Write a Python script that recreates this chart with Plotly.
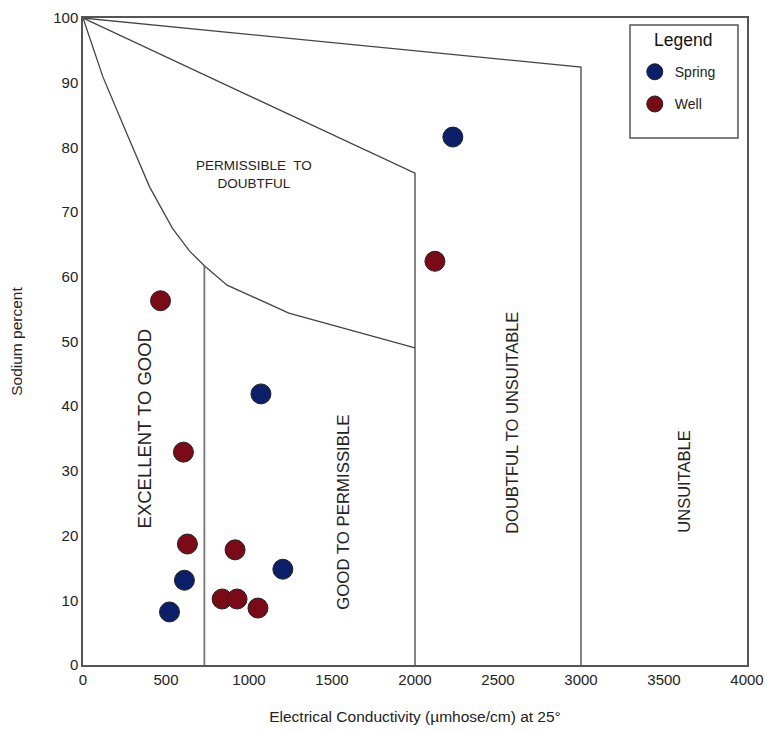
import plotly.graph_objects as go

# ---- data ----
spring_ec = [2228, 1072, 611, 521, 1204]
spring_na = [81.6, 41.9, 13.1, 8.2, 14.8]

well_ec = [467, 2120, 605, 629, 916, 838, 928, 1054]
well_na = [56.3, 62.4, 32.9, 18.7, 17.8, 10.2, 10.2, 8.8]

# class boundary lines of the Wilcox diagram
top_ec = [0, 3000, 3000]
top_na = [100, 92.4, 0]
mid_ec = [0, 2000, 2000]
mid_na = [100, 76.0, 0]
curve_ec = [0, 120, 263, 401, 539, 641, 731, 868, 1240, 2000]
curve_na = [100, 90.9, 82.2, 73.9, 67.5, 64.0, 61.7, 58.7, 54.4, 49.0]
v750_ec = [731, 731]
v750_na = [61.7, 0]

x_ticks = [0, 500, 1000, 1500, 2000, 2500, 3000, 3500, 4000]
y_ticks = [0, 10, 20, 30, 40, 50, 60, 70, 80, 90, 100]

region_labels = ["PERMISSIBLE  TO<br>DOUBTFUL", "EXCELLENT TO GOOD", "GOOD TO PERMISSIBLE",
                 "DOUBTFUL TO UNSUITABLE", "UNSUITABLE"]
region_x = [1030, 371, 1569, 2587, 3623]
region_y = [75.8, 36.5, 23.6, 37.5, 28.4]
region_angle = [0, -90, -90, -90, -90]
region_size = [13.5, 18.5, 16.8, 16.5, 16.5]

FONT = "Liberation Sans, Arial, sans-serif"
LINE_COLOR = "#444444"

fig = go.Figure()

for xs, ys in [(top_ec, top_na), (mid_ec, mid_na), (curve_ec, curve_na)]:
    fig.add_trace(go.Scatter(x=xs, y=ys, mode="lines",
                             line=dict(color=LINE_COLOR, width=1.3),
                             showlegend=False, hoverinfo="skip"))
fig.add_trace(go.Scatter(x=v750_ec, y=v750_na, mode="lines",
                         line=dict(color="#777777", width=1.8),
                         showlegend=False, hoverinfo="skip"))

fig.add_trace(go.Scatter(x=spring_ec, y=spring_na, mode="markers", name="Spring",
                         legendgroup="spring",
                         marker=dict(size=20, color="#0b1f6b",
                                     line=dict(color="#222222", width=1))))
fig.add_trace(go.Scatter(x=well_ec, y=well_na, mode="markers", name="Well",
                         legendgroup="well",
                         marker=dict(size=20, color="#7a0a16",
                                     line=dict(color="#222222", width=1))))

for t, x, y, a, s in zip(region_labels, region_x, region_y, region_angle, region_size):
    fig.add_annotation(x=x, y=y, text=t, textangle=a, showarrow=False,
                       font=dict(family=FONT, size=s, color="#222222"),
                       xref="x", yref="y")

# legend frame and title
fig.add_shape(type="rect", xref="paper", yref="paper",
              x0=0.8238, x1=0.9864, y0=0.8145, y1=0.9892,
              line=dict(color="#555555", width=1.5), fillcolor="white", layer="below")
fig.add_annotation(xref="paper", yref="paper", x=0.9036, y=0.966, text="Legend",
                   xanchor="center", yanchor="middle",
                   showarrow=False, font=dict(family=FONT, size=17.5, color="#111111"))

fig.update_layout(
    width=769, height=723,
    margin=dict(l=75, r=30, t=10, b=66),
    paper_bgcolor="white", plot_bgcolor="white",
    font=dict(family=FONT, color="#222222"),
    legend=dict(
        x=0.831, y=0.941, xanchor="left", yanchor="top",
        bgcolor="rgba(0,0,0,0)", borderwidth=0,
        font=dict(family=FONT, size=14, color="#222222"),
        tracegroupgap=11, itemsizing="trace",
    ),
)

fig.update_xaxes(range=[0, 4000], tickvals=x_ticks, ticktext=[str(v) for v in x_ticks],
                 showgrid=False, zeroline=False, showline=True, mirror=True,
                 linecolor="#555555", linewidth=1.5, ticks="", automargin=False,
                 tickfont=dict(family=FONT, size=15, color="#222222"),
                 title=dict(text="Electrical Conductivity (µmhose/cm) at 25°",
                            font=dict(family=FONT, size=15.5, color="#222222"), standoff=24))
fig.update_yaxes(range=[0, 100], tickvals=y_ticks, ticktext=[str(v) for v in y_ticks],
                 showgrid=False, zeroline=False, showline=True, mirror=True,
                 linecolor="#555555", linewidth=1.5, ticks="", automargin=False,
                 tickfont=dict(family=FONT, size=15, color="#222222"),
                 title=dict(text="Sodium percent",
                            font=dict(family=FONT, size=15.5, color="#222222"), standoff=29))

fig.write_html("out.html")
